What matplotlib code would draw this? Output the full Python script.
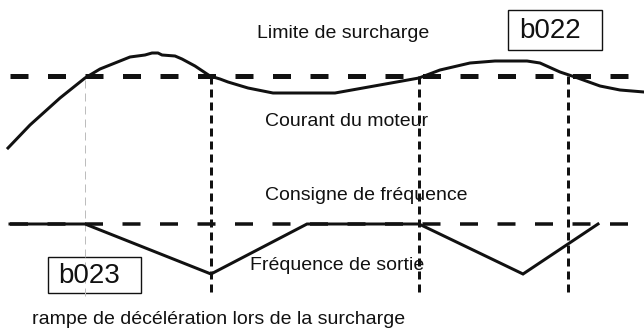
import matplotlib
matplotlib.use("Agg")
import matplotlib.pyplot as plt
from matplotlib.patches import Rectangle

plt.rcParams['font.family'] = ['Liberation Sans', 'DejaVu Sans']

# ---- data (diagram units: x = time, y = level, drawn top-down) ----
current_t = [8, 30, 60, 85, 100, 120, 130, 145, 152, 158, 162, 175, 182, 195,
             210, 220, 228, 248, 273, 335, 419, 440, 470, 495, 527, 540, 560,
             575, 600, 620, 644]
current_y = [148, 125, 98, 78, 69, 61, 57, 55, 53, 53, 55, 56, 59, 66,
             76, 79, 82, 88, 93, 93, 78, 70, 63, 61, 61, 63, 72,
             77, 86, 90, 92]

freq_t = [10, 85, 211, 307, 419, 523, 598]
freq_y = [224, 224, 274, 224, 224, 274, 224]

limit_level = 76
setpoint_level = 224
line_start, line_end = 10, 630

event_times = [211, 419, 568]
first_cross = 85

labels = {
    "limit": "Limite de surcharge",
    "current": "Courant du moteur",
    "setpoint": "Consigne de fréquence",
    "output": "Fréquence de sortie",
    "ramp": "rampe de décélération lors de la surcharge",
}
box1_text = "b022"
box2_text = "b023"

# ---- figure ----
W, H = 644, 329
fig = plt.figure(figsize=(W / 100, H / 100), dpi=100)
ax = fig.add_axes([0, 0, 1, 1])
ax.set_xlim(0, W)
ax.set_ylim(H, 0)
ax.axis('off')

px = 0.72  # points per pixel
ink = '#111111'

# thick dashed overload limit
lw1 = 5 * px
ax.plot([line_start, line_end], [limit_level, limit_level], color=ink,
        lw=lw1, dashes=(18 * px / lw1, 19.5 * px / lw1), dash_capstyle='butt')

# setpoint dashed
lw2 = 3.5 * px
ax.plot([line_start, line_end], [setpoint_level, setpoint_level], color=ink,
        lw=lw2, dashes=(18 * px / lw2, 19.5 * px / lw2), dash_capstyle='butt')

# light gray vertical at first crossing
lw3 = 1.0 * px
ax.plot([first_cross, first_cross], [80, 296], color='#bdbdbd', lw=lw3,
        dashes=(8 * px / lw3, 5 * px / lw3))

# black vertical dashed event lines
lw4 = 3 * px
for t in event_times:
    ax.plot([t, t], [76, 294], color=ink, lw=lw4,
            dashes=(8 * px / lw4, 5 * px / lw4), dash_capstyle='butt')

# motor current curve
ax.plot(current_t, current_y, color=ink, lw=3 * px, solid_joinstyle='round')

# output frequency
ax.plot(freq_t, freq_y, color=ink, lw=3 * px, solid_joinstyle='miter')

# texts
fs = 14
ax.text(257, 34, labels["limit"], fontsize=fs, color=ink, va='center', ha='left')
ax.text(265, 121, labels["current"], fontsize=fs, color=ink, va='center', ha='left')
ax.text(265, 195, labels["setpoint"], fontsize=fs, color=ink, va='center', ha='left')
ax.text(250, 266, labels["output"], fontsize=fs, color=ink, va='center', ha='left')
ax.text(32, 320, labels["ramp"], fontsize=fs, color=ink, va='center', ha='left')

# boxes
ax.add_patch(Rectangle((508, 10), 94, 40, fill=False, ec=ink, lw=1.0))
ax.text(550, 31, box1_text, fontsize=20, color=ink, va='center', ha='center')
ax.add_patch(Rectangle((48, 257), 93, 36, fill=False, ec=ink, lw=1.0))
ax.text(89, 276, box2_text, fontsize=20, color=ink, va='center', ha='center')

fig.savefig('out.png', dpi=100)
